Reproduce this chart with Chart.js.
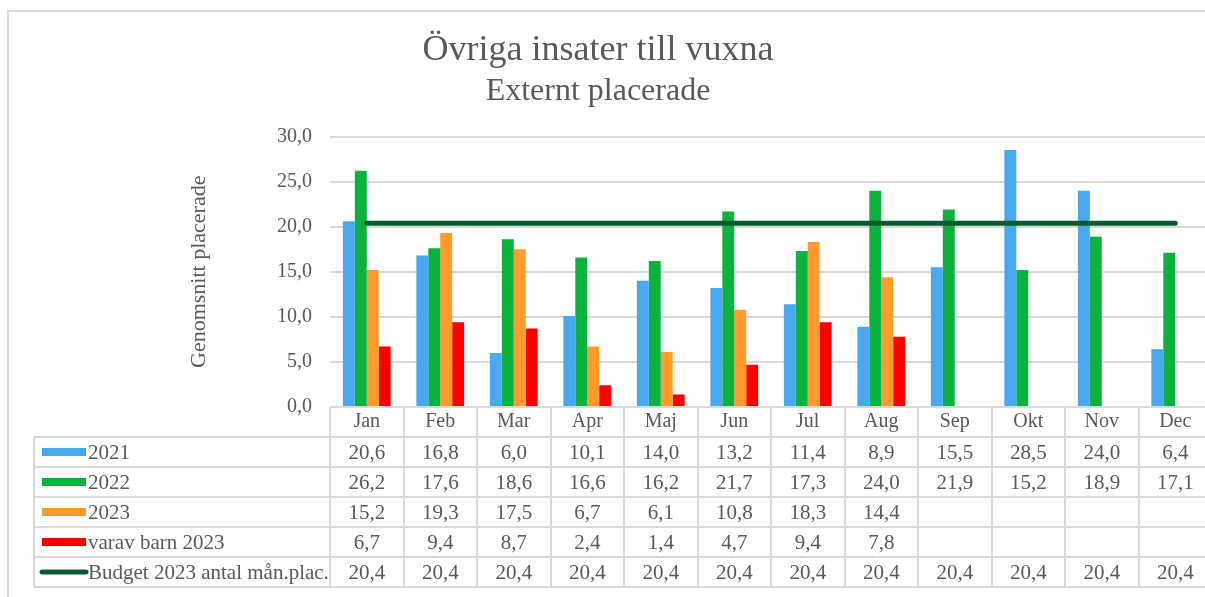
<!DOCTYPE html>
<html>
<head>
<meta charset="utf-8">
<script src="https://cdn.jsdelivr.net/npm/chart.js@4"></script>
<style>
html,body{margin:0;padding:0;background:#fff;overflow:hidden;}
canvas{display:block;}
</style>
</head>
<body>
<canvas id="c" width="1215" height="597"></canvas>
<script>
// ---- data ----
const months = ['Jan','Feb','Mar','Apr','Maj','Jun','Jul','Aug','Sep','Okt','Nov','Dec'];
const values2021 = [20.6,16.8,6.0,10.1,14.0,13.2,11.4,8.9,15.5,28.5,24.0,6.4];
const values2022 = [26.2,17.6,18.6,16.6,16.2,21.7,17.3,24.0,21.9,15.2,18.9,17.1];
const values2023 = [15.2,19.3,17.5,6.7,6.1,10.8,18.3,14.4,null,null,null,null];
const childValues2023 = [6.7,9.4,8.7,2.4,1.4,4.7,9.4,7.8,null,null,null,null];
const budget2023 = [20.4,20.4,20.4,20.4,20.4,20.4,20.4,20.4,20.4,20.4,20.4,20.4];
const yTicks = [0,5,10,15,20,25,30];
const seriesNames = ['2021','2022','2023','varav barn 2023','Budget 2023 antal mån.plac.'];
const titleText = 'Övriga insater till vuxna';
const subtitleText = 'Externt placerade';
const yTitleText = 'Genomsnitt placerade';

// ---- styles ----
const FONT = "'Liberation Serif', 'Times New Roman', serif";
const TXT = '#595959';
const GRID = '#d9d9d9';
const fmt = v => (v === null || v === undefined) ? '' : v.toFixed(1).replace('.', ',');

const tablePlugin = {
  id: 'dataTable',
  beforeDraw(chart) {
    const ctx = chart.ctx;
    ctx.save();
    ctx.fillStyle = '#fff';
    ctx.fillRect(0, 0, chart.width, chart.height);
    ctx.strokeStyle = GRID;
    ctx.lineWidth = 2;
    ctx.beginPath();
    ctx.moveTo(8, chart.height + 5);
    ctx.lineTo(8, 11);
    ctx.lineTo(chart.width + 5, 11);
    ctx.stroke();
    ctx.restore();
  },
  afterDraw(chart) {
    const ctx = chart.ctx;
    const x = chart.scales.x;
    const n = chart.data.labels.length;
    const colW = (x.right - x.left) / n;
    const top = Math.round(chart.chartArea.bottom);
    const rowH = 30;
    const tableLeft = 34;
    const ds = chart.data.datasets;
    const bottom = top + rowH * (ds.length + 1);
    const right = chart.width + 5;
    ctx.save();
    ctx.strokeStyle = GRID;
    ctx.lineWidth = 2;
    ctx.beginPath();
    ctx.moveTo(x.left, top); ctx.lineTo(right, top);
    for (let i = 0; i <= n; i++) {
      const xx = Math.round(x.left + i * colW);
      ctx.moveTo(xx, top); ctx.lineTo(xx, bottom);
    }
    ctx.moveTo(tableLeft, top + rowH); ctx.lineTo(tableLeft, bottom);
    for (let r = 1; r <= ds.length + 1; r++) {
      const yy = top + r * rowH;
      ctx.moveTo(tableLeft, yy); ctx.lineTo(right, yy);
    }
    ctx.stroke();

    ctx.font = '21px ' + FONT;
    ctx.fillStyle = TXT;
    ctx.textBaseline = 'middle';
    ds.forEach((d, r) => {
      const cy = top + (r + 1) * rowH + rowH / 2;
      if (d.type === 'line') {
        ctx.save();
        ctx.strokeStyle = d.borderColor;
        ctx.lineWidth = 5;
        ctx.lineCap = 'round';
        ctx.beginPath();
        ctx.moveTo(42, cy); ctx.lineTo(86, cy);
        ctx.stroke();
        ctx.restore();
      } else {
        ctx.fillStyle = d.backgroundColor;
        ctx.fillRect(42, cy - 4, 44, 8);
      }
      ctx.fillStyle = TXT;
      ctx.textAlign = 'left';
      ctx.fillText(d.label, 88, cy + 1);
      ctx.textAlign = 'center';
      d.data.forEach((v, i) => {
        const cx = x.getPixelForValue(i);
        ctx.fillText(fmt(v), cx, cy + 1);
      });
    });
    ctx.restore();
  }
};

new Chart(document.getElementById('c'), {
  type: 'bar',
  data: {
    labels: months,
    datasets: [
      { label: seriesNames[0], data: values2021, backgroundColor: '#47a9ef' },
      { label: seriesNames[1], data: values2022, backgroundColor: '#0bb33e' },
      { label: seriesNames[2], data: values2023, backgroundColor: '#ff9a2c' },
      { label: seriesNames[3], data: childValues2023, backgroundColor: '#ff0000' },
      { label: seriesNames[4], data: budget2023, type: 'line', borderColor: '#0a5a2e',
        backgroundColor: '#0a5a2e', borderWidth: 5, pointRadius: 0, borderCapStyle: 'round',
        fill: false, order: -1, tension: 0 }
    ]
  },
  options: {
    responsive: false,
    animation: false,
    devicePixelRatio: 1,
    datasets: { bar: { categoryPercentage: 0.65, barPercentage: 1.0, borderWidth: 0 } },
    layout: { padding: { left: -16, right: 3, top: 10, bottom: 160 } },
    plugins: {
      legend: { display: false },
      tooltip: { enabled: false },
      title: { display: true, text: titleText, color: TXT,
        font: { family: FONT, size: 36, weight: 'normal' }, padding: { top: 19, bottom: 0 } },
      subtitle: { display: true, text: subtitleText, color: TXT,
        font: { family: FONT, size: 32, weight: 'normal' }, padding: { top: 0, bottom: 26 } }
    },
    scales: {
      x: {
        grid: { display: false, drawTicks: false },
        border: { display: false },
        ticks: { color: TXT, font: { family: FONT, size: 20 }, padding: 3, maxRotation: 0, autoSkip: false }
      },
      y: {
        min: 0, max: 30,
        afterBuildTicks: s => { s.ticks = yTicks.map(v => ({ value: v })); },
        afterFit: s => { s.width = 346; },
        grid: { color: GRID, lineWidth: 2, drawTicks: false },
        border: { display: false },
        ticks: { color: TXT, font: { family: FONT, size: 20 }, padding: 18, callback: v => fmt(v) },
        title: { display: true, text: yTitleText, color: TXT,
          font: { family: FONT, size: 22 }, padding: { top: 202, bottom: 0 } }
      }
    }
  },
  plugins: [tablePlugin]
});
</script>
</body>
</html>
